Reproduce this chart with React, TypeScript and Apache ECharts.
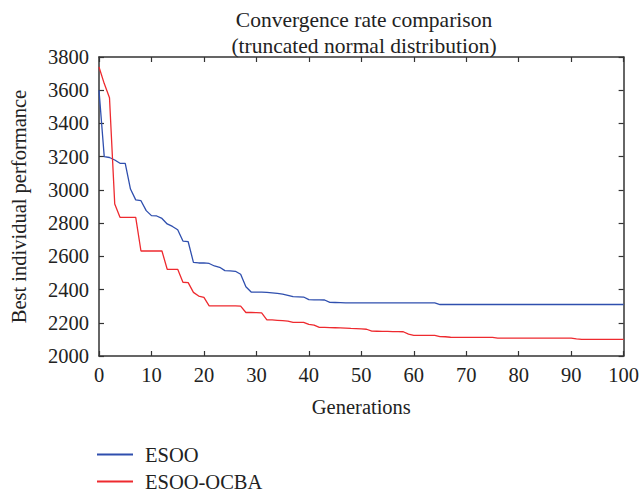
import React, { useEffect, useRef } from "react";
import * as echarts from "echarts";

const generations: number[] = Array.from({ length: 101 }, (_, i) => i);

const esoo: number[] = [
  3600, 3200, 3195, 3180, 3160, 3160, 3005, 2940, 2935, 2875,
  2845, 2843, 2828, 2795, 2780, 2760, 2692, 2688, 2564, 2560,
  2560, 2557, 2542, 2534, 2514, 2512, 2510, 2492, 2417, 2385,
  2385, 2384, 2383, 2380, 2377, 2373, 2365, 2357, 2356, 2355,
  2339, 2338, 2338, 2337, 2323, 2322, 2321, 2320, 2320, 2320,
  2320, 2320, 2320, 2320, 2320, 2320, 2320, 2320, 2320, 2320,
  2320, 2320, 2320, 2320, 2320, 2310, 2310, 2310, 2310, 2310,
  2310, 2310, 2310, 2310, 2310, 2310, 2310, 2310, 2310, 2310,
  2310, 2310, 2310, 2310, 2310, 2310, 2310, 2310, 2310, 2310,
  2310, 2310, 2310, 2310, 2310, 2310, 2310, 2310, 2310, 2310,
  2310,
];

const esooOcba: number[] = [
  3740, 3640, 3555, 2915, 2835, 2835, 2835, 2835, 2632, 2632,
  2632, 2632, 2632, 2522, 2522, 2522, 2444, 2442, 2383, 2361,
  2353, 2302, 2302, 2302, 2302, 2302, 2302, 2300, 2262, 2262,
  2261, 2260, 2217, 2217, 2215, 2213, 2210, 2203, 2203, 2203,
  2190, 2186, 2172, 2172, 2171, 2170, 2169, 2168, 2166, 2165,
  2163, 2161, 2150, 2149, 2148, 2148, 2147, 2147, 2146, 2132,
  2124, 2124, 2124, 2124, 2124, 2117, 2116, 2113, 2112, 2112,
  2112, 2112, 2112, 2112, 2112, 2112, 2108, 2108, 2108, 2108,
  2108, 2108, 2108, 2108, 2108, 2108, 2108, 2108, 2108, 2108,
  2108, 2103, 2100, 2100, 2100, 2100, 2100, 2100, 2100, 2100,
  2100,
];

const seriesNames = ["ESOO", "ESOO-OCBA"];
const titleLines = ["Convergence rate comparison", "(truncated normal distribution)"];
const xAxisName = "Generations";
const yAxisName = "Best individual performance";

const FONT = "'Liberation Serif', 'DejaVu Serif', serif";
const AXIS_COLOR = "#333333";

export default function App() {
  const ref = useRef<HTMLDivElement>(null);
  useEffect(() => {
    if (!ref.current) return;
    const chart = echarts.init(ref.current, undefined, { renderer: "svg" });
    const axisBase = {
      axisLine: { show: true, onZero: false, lineStyle: { color: AXIS_COLOR, width: 1.5 } },
      axisTick: { show: true, inside: true, length: 5, lineStyle: { color: AXIS_COLOR, width: 1.2 } },
      splitLine: { show: false },
    };
    chart.setOption({
      animation: false,
      backgroundColor: "#ffffff",
      textStyle: { fontFamily: FONT },
      title: {
        text: titleLines.join("\n"),
        left: 359,
        top: 2,
        textAlign: "center",
        textStyle: { fontFamily: FONT, fontSize: 21.5, fontWeight: "normal", color: "#222", lineHeight: 26 },
      },
      legend: {
        orient: "vertical",
        left: 97,
        top: 444,
        padding: 0,
        itemWidth: 36,
        itemHeight: 2,
        itemGap: 6,
        icon: "rect",
        data: seriesNames,
        textStyle: { fontFamily: FONT, fontSize: 20.5, color: "#222", lineHeight: 20, padding: [0, 0, 0, 7] },
      },
      grid: { left: 97, right: 16, top: 57, bottom: 136, containLabel: false },
      xAxis: [
        {
          type: "value",
          min: 0,
          max: 100,
          interval: 10,
          position: "bottom",
          name: xAxisName,
          nameLocation: "middle",
          nameGap: 40,
          nameTextStyle: { fontFamily: FONT, fontSize: 20.5, color: "#222" },
          axisLabel: { fontFamily: FONT, fontSize: 20.5, color: "#222", margin: 8 },
          ...axisBase,
        },
        {
          type: "value",
          min: 0,
          max: 100,
          interval: 10,
          position: "top",
          axisLabel: { show: false },
          ...axisBase,
        },
      ],
      yAxis: [
        {
          type: "value",
          min: 2000,
          max: 3800,
          interval: 200,
          position: "left",
          name: yAxisName,
          nameLocation: "middle",
          nameGap: 70,
          nameTextStyle: { fontFamily: FONT, fontSize: 20.5, color: "#222" },
          axisLabel: {
            fontFamily: FONT,
            fontSize: 20.5,
            color: "#222",
            margin: 10,
            formatter: (v: number) => String(v),
          },
          ...axisBase,
        },
        {
          type: "value",
          min: 2000,
          max: 3800,
          interval: 200,
          position: "right",
          axisLabel: { show: false },
          ...axisBase,
        },
      ],
      series: [
        {
          name: seriesNames[0],
          type: "line",
          data: generations.map((g, i) => [g, esoo[i]]),
          showSymbol: false,
          symbol: "none",
          lineStyle: { color: "#2f4fae", width: 1.3 },
          itemStyle: { color: "#2f4fae" },
          z: 3,
        },
        {
          name: seriesNames[1],
          type: "line",
          data: generations.map((g, i) => [g, esooOcba[i]]),
          showSymbol: false,
          symbol: "none",
          lineStyle: { color: "#ee2a2f", width: 1.3 },
          itemStyle: { color: "#ee2a2f" },
          z: 4,
        },
      ],
    });
    return () => chart.dispose();
  }, []);
  return <div ref={ref} style={{ width: 642, height: 492, position: "absolute", left: 0, top: 0 }} />;
}
